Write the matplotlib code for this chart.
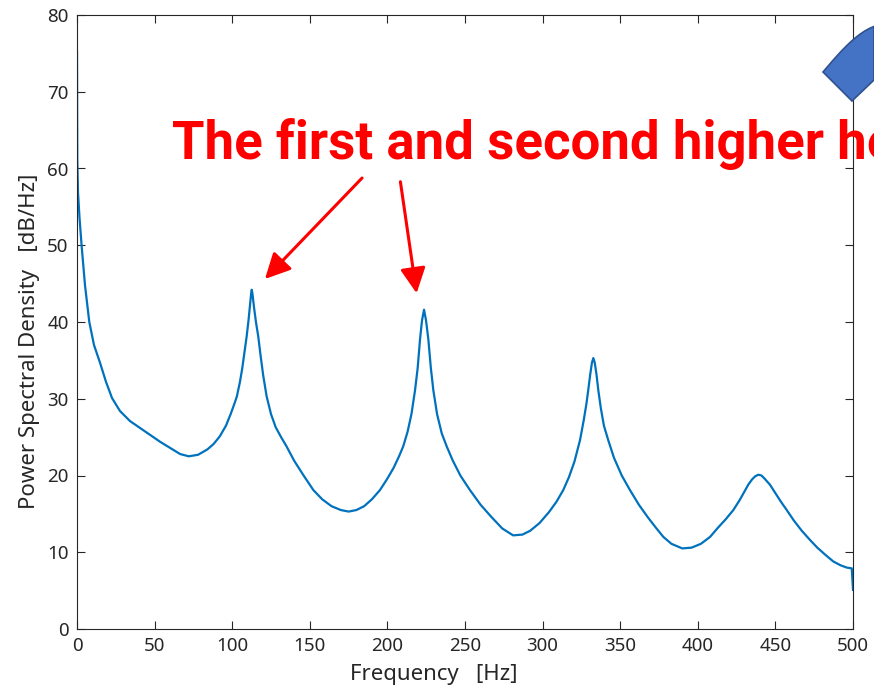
import matplotlib
matplotlib.use("Agg")
import matplotlib.pyplot as plt
from matplotlib.patches import Polygon, FancyArrowPatch
import numpy as np

plt.rcParams["font.family"] = ["Noto Sans", "DejaVu Sans"]

# PSD curve (Hz, dB/Hz)
freq = [0, 0.19, 0.64, 1.61, 3.03, 5.15, 7.92, 10.95, 14.82, 18.69, 22.55,
        27.7, 34.1, 40.6, 47.0, 53.5, 59.9, 66.4, 72,
        78, 84, 88, 92, 96, 99, 101.5, 103, 105, 106.5, 108, 109.3, 110.5,
        111.5, 112.2, 112.6, 113.1, 114, 115.3, 116.8, 118.3, 120, 122.2,
        125, 128, 131.5, 135, 140, 146, 152.3, 158, 164, 170, 175,
        180, 185, 190, 195.2, 200, 204, 207.5, 210.2, 213, 215.5, 217.8,
        219.5, 221, 222.3, 223.6, 224.9, 226.4, 228, 229.6, 232, 235, 238.2,
        242, 247, 253.2, 260, 267, 274, 281, 287,
        292, 298, 304, 309, 313.3, 317, 320.5, 324.1, 326.5, 328.2, 329.4,
        330.7, 331.8, 332.7, 333.6, 334.7, 335.9, 337.5, 339.5, 342.3, 346,
        351, 356.3, 362, 368, 373, 377.8, 383, 390,
        396, 402, 407.9, 413, 418, 422.9, 427, 430, 432.5, 435, 437, 439,
        441, 443, 446.5, 450, 453.5, 457.3, 462, 467, 472.3, 477, 482,
        487.3, 492, 496, 499.2, 500]
psd = [75.2, 61.1, 56.9, 53.6, 49.8, 44.8, 40.0, 37.0, 34.7, 32.2, 30.1,
       28.4, 27.1, 26.2, 25.3, 24.4, 23.6, 22.8, 22.5,
       22.7, 23.4, 24.1, 25.1, 26.5, 28.0, 29.4, 30.3, 32.2, 34.0, 36.2, 38.1, 40.2,
       42.3, 43.7, 44.2, 43.6, 42.0, 40.0, 38.1, 35.6, 33.0, 30.3,
       28.0, 26.3, 25.0, 23.8, 21.9, 20.0, 18.1, 16.9, 16.0, 15.5, 15.3,
       15.5, 16.0, 16.9, 18.1, 19.6, 21.0, 22.5, 23.8, 25.7, 28.0, 31.1,
       34.0, 37.7, 40.2, 41.6, 40.2, 37.7, 34.0, 31.1, 28.0, 25.5, 23.8,
       22.0, 20.0, 18.1, 16.2, 14.6, 13.1, 12.2, 12.3,
       12.8, 13.8, 15.2, 16.6, 18.1, 19.8, 21.8, 24.6, 27.2, 29.3, 31.1,
       33.2, 34.7, 35.3, 34.7, 33.2, 31.1, 28.8, 26.5, 24.6, 22.3,
       20.0, 18.1, 16.2, 14.5, 13.2, 12.0, 11.1, 10.5,
       10.6, 11.1, 12.0, 13.2, 14.3, 15.5, 16.8, 17.9, 18.8, 19.5, 19.9, 20.1,
       20.0, 19.6, 18.8, 17.7, 16.6, 15.5, 14.1, 12.8, 11.6, 10.6, 9.7,
       8.8, 8.3, 8.0, 7.9, 5.1]

x_ticks = [0, 50, 100, 150, 200, 250, 300, 350, 400, 450, 500]
y_ticks = [0, 10, 20, 30, 40, 50, 60, 70, 80]

W, H = 874, 692
fig = plt.figure(figsize=(W / 100, H / 100), dpi=100)
ax = fig.add_axes([77 / W, 1 - 629 / H, (853 - 77) / W, (629 - 15) / H])

ax.plot(freq, psd, color="#0072BD", lw=1.6)
ax.set_xlim(0, 500)
ax.set_ylim(0, 80)
ax.set_xticks(x_ticks)
ax.set_yticks(y_ticks)
ax.tick_params(direction="in", top=True, right=True, length=6, width=0.8,
               colors="#262626", labelsize=13.5)
ax.tick_params(axis="x", pad=6)
ax.tick_params(axis="y", pad=6)
for s in ax.spines.values():
    s.set_color("#262626")
    s.set_linewidth(0.8)
ax.set_xlabel("Frequency   [Hz]", fontsize=16, color="#262626", labelpad=6)
ax.set_ylabel("Power Spectral Density   [dB/Hz]", fontsize=16, color="#262626", labelpad=5)
ax.xaxis.label.set_x(0.46)
ax.yaxis.label.set_y(0.469)

# red annotation text and arrows (figure pixel coords)
fig.text(172 / W, 1 - 159 / H, "The first and second higher he", color="#FF0000",
         fontsize=38, fontweight="bold", family="Roboto", ha="left", va="baseline")
for (x0, y0), (x1, y1) in [((364, 176), (263, 281)), ((400, 179), (417, 296))]:
    fig.patches.append(FancyArrowPatch((x0, H - y0), (x1, H - y1), transform=None,
                                       arrowstyle="-|>,head_length=7,head_width=3.5",
                                       color="#FF0000", lw=2.2, mutation_scale=2.2))

# blue block-arc shape in upper right corner
t = np.linspace(0, 1, 12)
top = np.column_stack([823 + (874 - 823) * t, 72 - 42 * np.sin(t * np.pi / 2.4) - 5 * t])
pts = np.vstack([top, [[874, 80], [852, 101]]])
pts[:, 1] = H - pts[:, 1]
fig.patches.append(Polygon(pts, closed=True, transform=None, facecolor="#4472C4",
                           edgecolor="#2F528F", lw=1.2))

fig.savefig("out.png", dpi=100)
